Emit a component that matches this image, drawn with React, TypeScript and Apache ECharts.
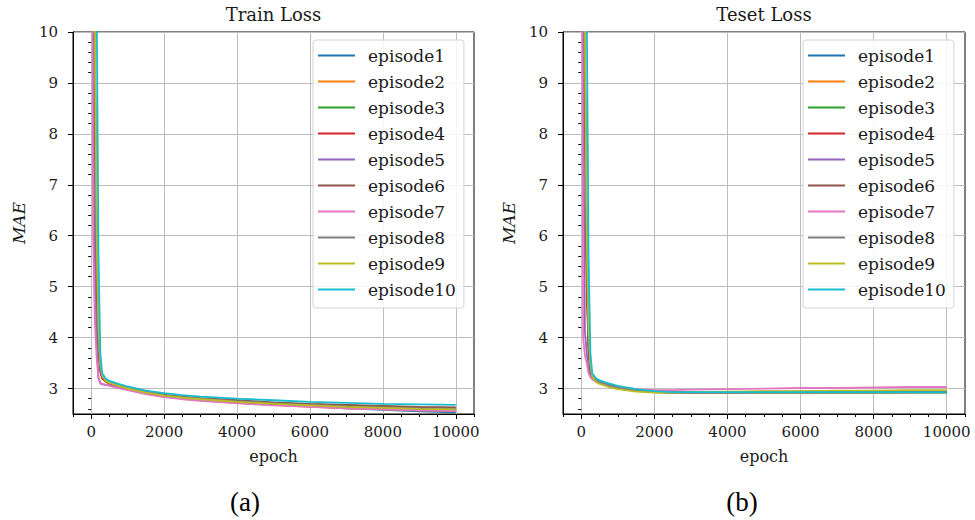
import React, { useEffect, useRef } from "react";
import * as echarts from "echarts";

const EPOCHS = [0, 50, 100, 150, 200, 250, 300, 400, 500, 750, 1000, 1500, 2000, 2500, 3000, 4000, 5000, 6000, 7000, 8000, 9000, 10000];

const EPISODES = ["episode1", "episode2", "episode3", "episode4", "episode5", "episode6", "episode7", "episode8", "episode9", "episode10"];
const COLORS = ["#1f77b4", "#ff7f0e", "#2ca02c", "#d62728", "#9467bd", "#8c564b", "#e377c2", "#7f7f7f", "#bcbd22", "#17becf"];

const TRAIN_EP1 = [48, 16, 9.2, 5.6, 3.9, 3.4, 3.22, 3.14, 3.10, 3.04, 2.99, 2.91, 2.85, 2.81, 2.78, 2.73, 2.69, 2.65, 2.61, 2.58, 2.55, 2.53];
const TRAIN_EP2 = [45, 15, 8.8, 5.2, 3.8, 3.35, 3.2, 3.13, 3.09, 3.03, 2.98, 2.90, 2.84, 2.80, 2.77, 2.72, 2.68, 2.64, 2.61, 2.59, 2.57, 2.56];
const TRAIN_EP3 = [50, 17, 9.6, 5.5, 3.9, 3.4, 3.23, 3.15, 3.11, 3.05, 3.00, 2.92, 2.86, 2.82, 2.79, 2.74, 2.70, 2.67, 2.64, 2.62, 2.60, 2.58];
const TRAIN_EP4 = [46, 14, 8.5, 5.0, 3.7, 3.32, 3.2, 3.14, 3.10, 3.05, 3.00, 2.93, 2.87, 2.83, 2.80, 2.76, 2.72, 2.69, 2.67, 2.65, 2.63, 2.62];
const TRAIN_EP5 = [30, 9.5, 5.5, 3.8, 3.2, 3.1, 3.08, 3.07, 3.06, 3.02, 2.98, 2.90, 2.84, 2.80, 2.77, 2.72, 2.68, 2.65, 2.62, 2.60, 2.58, 2.57];
const TRAIN_EP6 = [47, 15, 9.0, 5.3, 3.8, 3.38, 3.22, 3.15, 3.11, 3.06, 3.01, 2.94, 2.88, 2.84, 2.81, 2.77, 2.73, 2.70, 2.68, 2.66, 2.64, 2.63];
const TRAIN_EP7 = [20, 6.0, 4.3, 3.6, 3.2, 3.12, 3.09, 3.07, 3.05, 3.01, 2.97, 2.89, 2.83, 2.79, 2.76, 2.71, 2.67, 2.64, 2.61, 2.59, 2.57, 2.56];
const TRAIN_EP8 = [49, 16, 9.4, 5.7, 3.9, 3.42, 3.24, 3.16, 3.12, 3.06, 3.01, 2.93, 2.87, 2.83, 2.80, 2.75, 2.71, 2.68, 2.65, 2.63, 2.61, 2.60];
const TRAIN_EP9 = [52, 18, 10.5, 6.0, 4.2, 3.5, 3.26, 3.15, 3.11, 3.05, 3.00, 2.92, 2.86, 2.82, 2.79, 2.74, 2.70, 2.67, 2.64, 2.62, 2.60, 2.59];
const TRAIN_EP10 = [70, 30, 18, 10.5, 5.6, 3.7, 3.3, 3.19, 3.15, 3.09, 3.04, 2.96, 2.91, 2.87, 2.84, 2.80, 2.77, 2.74, 2.72, 2.70, 2.69, 2.68];

const TEST_EP1 = [48, 16, 9.2, 5.6, 3.9, 3.4, 3.24, 3.17, 3.13, 3.07, 3.03, 2.98, 2.94, 2.93, 2.93, 2.93, 2.93, 2.93, 2.93, 2.93, 2.93, 2.93];
const TEST_EP2 = [45, 15, 8.8, 5.2, 3.8, 3.36, 3.22, 3.15, 3.11, 3.05, 3.01, 2.96, 2.93, 2.92, 2.92, 2.92, 2.92, 2.92, 2.92, 2.92, 2.93, 2.93];
const TEST_EP3 = [50, 17, 9.6, 5.5, 3.9, 3.4, 3.25, 3.17, 3.13, 3.07, 3.02, 2.97, 2.93, 2.92, 2.92, 2.92, 2.92, 2.92, 2.92, 2.92, 2.92, 2.92];
const TEST_EP4 = [46, 14, 8.5, 5.0, 3.7, 3.33, 3.21, 3.15, 3.12, 3.06, 3.02, 2.97, 2.94, 2.93, 2.93, 2.93, 2.94, 2.94, 2.94, 2.94, 2.94, 2.94];
const TEST_EP5 = [30, 9.5, 4.1, 3.7, 3.35, 3.25, 3.2, 3.14, 3.11, 3.05, 3.01, 2.96, 2.93, 2.92, 2.92, 2.92, 2.93, 2.93, 2.93, 2.93, 2.93, 2.93];
const TEST_EP6 = [47, 15, 9.0, 5.3, 3.8, 3.38, 3.23, 3.16, 3.12, 3.06, 3.02, 2.97, 2.94, 2.93, 2.93, 2.93, 2.93, 2.94, 2.94, 2.94, 2.94, 2.94];
const TEST_EP7 = [20, 4.0, 3.65, 3.5, 3.3, 3.22, 3.18, 3.14, 3.11, 3.06, 3.03, 2.99, 2.97, 2.97, 2.98, 2.99, 3.00, 3.01, 3.01, 3.02, 3.03, 3.03];
const TEST_EP8 = [49, 16, 9.4, 5.7, 3.9, 3.42, 3.25, 3.17, 3.13, 3.07, 3.02, 2.96, 2.93, 2.92, 2.92, 2.92, 2.92, 2.92, 2.92, 2.92, 2.92, 2.92];
const TEST_EP9 = [52, 18, 10.5, 6.0, 4.2, 3.5, 3.24, 3.13, 3.09, 3.03, 2.99, 2.94, 2.92, 2.92, 2.93, 2.94, 2.95, 2.95, 2.96, 2.96, 2.97, 2.97];
const TEST_EP10 = [70, 30, 18, 10.5, 5.6, 3.7, 3.3, 3.2, 3.16, 3.1, 3.05, 2.99, 2.95, 2.93, 2.93, 2.93, 2.93, 2.93, 2.93, 2.93, 2.93, 2.93];

const TRAIN = [TRAIN_EP1, TRAIN_EP2, TRAIN_EP3, TRAIN_EP4, TRAIN_EP5, TRAIN_EP6, TRAIN_EP7, TRAIN_EP8, TRAIN_EP9, TRAIN_EP10];
const TEST = [TEST_EP1, TEST_EP2, TEST_EP3, TEST_EP4, TEST_EP5, TEST_EP6, TEST_EP7, TEST_EP8, TEST_EP9, TEST_EP10];

const X_TICKS = [0, 2000, 4000, 6000, 8000, 10000];
const X_MINOR = [-500, 500, 1000, 1500, 2500, 3000, 3500, 4500, 5000, 5500, 6500, 7000, 7500, 8500, 9000, 9500, 10500];
const Y_TICKS = [3, 4, 5, 6, 7, 8, 9, 10];
const Y_MINOR = [2.6, 2.8, 3.2, 3.4, 3.6, 3.8, 4.2, 4.4, 4.6, 4.8, 5.2, 5.4, 5.6, 5.8, 6.2, 6.4, 6.6, 6.8, 7.2, 7.4, 7.6, 7.8, 8.2, 8.4, 8.6, 8.8, 9.2, 9.4, 9.6, 9.8];

const TITLES = ["Train Loss", "Teset Loss"];
const CAPTIONS = ["(a)", "(b)"];

const FONT = "'DejaVu Serif', serif";
const TXT = "#1a1a1a";

export default function App() {
  const ref = useRef<HTMLDivElement>(null);
  useEffect(() => {
    if (!ref.current) return;
    const chart = echarts.init(ref.current, undefined, { renderer: "svg" });
    const grids = [
      { left: 73, top: 32, width: 401, height: 382 },
      { left: 563, top: 32, width: 402, height: 382 },
    ];
    const xAxes: any[] = [];
    const yAxes: any[] = [];
    grids.forEach((g, i) => {
      xAxes.push({
        type: "value", gridIndex: i, min: -500, max: 10500, position: "bottom",
        name: "epoch", nameLocation: "middle", nameGap: 34,
        nameTextStyle: { fontFamily: FONT, fontSize: 16, color: TXT },
        axisLine: { show: true, onZero: false, lineStyle: { color: "#000", width: 1 } },
        axisTick: { show: true, length: 5, customValues: X_TICKS, lineStyle: { color: "#000", width: 1 } },
        axisLabel: { show: true, customValues: X_TICKS, margin: 10, fontFamily: FONT, fontSize: 15, color: TXT, formatter: (v: number) => String(v) },
        splitLine: { show: true, lineStyle: { color: "#bdbdbd", width: 1 } },
      });
      yAxes.push({
        type: "value", gridIndex: i, min: 2.5, max: 10, position: "left",
        name: "MAE", nameLocation: "middle", nameGap: 46, nameRotate: 90,
        nameTextStyle: { fontFamily: FONT, fontSize: 17, fontStyle: "italic", color: TXT },
        axisLine: { show: true, onZero: false, lineStyle: { color: "#000", width: 1 } },
        axisTick: { show: true, length: 5, customValues: Y_TICKS, lineStyle: { color: "#000", width: 1 } },
        axisLabel: { show: true, customValues: Y_TICKS, margin: 15, fontFamily: FONT, fontSize: 15, color: TXT, formatter: (v: number) => String(v) },
        splitLine: { show: true, lineStyle: { color: "#bdbdbd", width: 1 } },
      });
    });
    grids.forEach((g, i) => {
      xAxes.push({
        type: "value", gridIndex: i, min: -500, max: 10500, position: "bottom", offset: 0,
        axisLine: { show: false }, axisLabel: { show: false }, splitLine: { show: false },
        axisTick: { show: true, length: 3, customValues: X_MINOR, lineStyle: { color: "#000", width: 1 } },
      });
      yAxes.push({
        type: "value", gridIndex: i, min: 2.5, max: 10, position: "left", offset: 0,
        axisLine: { show: false }, axisLabel: { show: false }, splitLine: { show: false },
        axisTick: { show: true, length: 3, customValues: Y_MINOR, lineStyle: { color: "#000", width: 1 } },
      });
    });
    const series: any[] = [];
    [TRAIN, TEST].forEach((set, gi) => {
      set.forEach((vals, k) => {
        series.push({
          type: "line", name: EPISODES[k], xAxisIndex: gi, yAxisIndex: gi,
          data: EPOCHS.map((e, j) => [e, vals[j]]),
          showSymbol: false, symbol: "none", clip: true, color: COLORS[k],
          lineStyle: { color: COLORS[k], width: 1.8 },
        });
      });
    });
    const legendBase = {
      top: 40, orient: "vertical", icon: "rect", itemWidth: 37, itemHeight: 2,
      itemGap: 9, padding: [7, 8, 10, 5],
      backgroundColor: "rgba(255,255,255,0.85)", borderColor: "#d4d4d4", borderWidth: 1, borderRadius: 3,
      textStyle: { fontFamily: FONT, fontSize: 17, color: TXT, padding: [0, 0, 0, 8] },
      selectedMode: false, data: EPISODES,
    };
    const centers = [273.5, 764];
    const graphic: any[] = [];
    centers.forEach((cx, i) => {
      graphic.push({ type: "text", x: cx, y: 14, style: { text: TITLES[i], font: `18px ${FONT}`, fill: TXT, textAlign: "center", textVerticalAlign: "middle" } });
    });
    graphic.push({ type: "text", x: 245, y: 502, style: { text: CAPTIONS[0], font: `27px 'Liberation Serif', serif`, fill: "#000", textAlign: "center", textVerticalAlign: "middle" } });
    graphic.push({ type: "text", x: 742, y: 502, style: { text: CAPTIONS[1], font: `27px 'Liberation Serif', serif`, fill: "#000", textAlign: "center", textVerticalAlign: "middle" } });

    chart.setOption({
      animation: false,
      backgroundColor: "#fff",
      grid: grids.map((g) => ({ ...g, show: true, borderColor: "#000", borderWidth: 1, backgroundColor: "transparent", containLabel: false })),
      xAxis: xAxes,
      yAxis: yAxes,
      legend: [{ ...legendBase, left: 313 }, { ...legendBase, left: 803 }],
      series,
      graphic,
    });
    return () => chart.dispose();
  }, []);
  return <div ref={ref} style={{ position: "fixed", left: 0, top: 0, width: 975, height: 520 }} />;
}
